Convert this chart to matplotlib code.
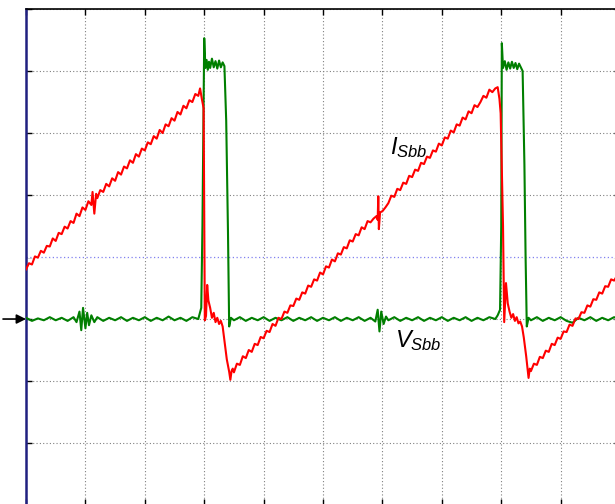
import matplotlib
matplotlib.use("Agg")
import matplotlib.pyplot as plt

plt.rcParams["mathtext.fontset"] = "custom"
plt.rcParams["mathtext.rm"] = "Liberation Sans"
plt.rcParams["mathtext.it"] = "Liberation Sans:italic"

# Screen divisions: 10 horizontal, 8 vertical (ground marker at 0)
x_divs = list(range(0, 11))
y_divs = list(range(-3, 6))
cursor_level = 1

# Switch current I_Sbb (red) in divisions
i_x = [0.00, 0.05, 0.10, 0.15, 0.20, 0.25, 0.30, 0.35, 0.40, 0.45,
       0.50, 0.55, 0.60, 0.65, 0.70, 0.75, 0.80, 0.85, 0.90, 0.95,
       1.00, 1.05, 1.10, 1.12, 1.15, 1.18, 1.20, 1.25, 1.30, 1.35,
       1.40, 1.45, 1.50, 1.55, 1.60, 1.65, 1.70, 1.75, 1.80, 1.85,
       1.90, 1.95, 2.00, 2.05, 2.10, 2.15, 2.20, 2.25, 2.30, 2.35,
       2.40, 2.45, 2.50, 2.55, 2.60, 2.65, 2.70, 2.75, 2.80, 2.85,
       2.90, 2.93, 2.96, 2.99, 3.01, 3.03, 3.05, 3.07, 3.10, 3.13,
       3.16, 3.19, 3.22, 3.25, 3.28, 3.31, 3.34, 3.38, 3.42, 3.44,
       3.46, 3.48, 3.50, 3.55, 3.60, 3.65, 3.70, 3.75, 3.80, 3.85,
       3.90, 3.95, 4.00, 4.05, 4.10, 4.15, 4.20, 4.25, 4.30, 4.35,
       4.40, 4.45, 4.50, 4.55, 4.60, 4.65, 4.70, 4.75, 4.80, 4.85,
       4.90, 4.95, 5.00, 5.05, 5.10, 5.15, 5.20, 5.25, 5.30, 5.35,
       5.40, 5.45, 5.50, 5.55, 5.60, 5.65, 5.70, 5.75, 5.80, 5.85,
       5.90, 5.92, 5.93, 5.94, 5.96, 6.00, 6.05, 6.10, 6.15, 6.20,
       6.25, 6.30, 6.35, 6.40, 6.45, 6.50, 6.55, 6.60, 6.65, 6.70,
       6.75, 6.80, 6.85, 6.90, 6.95, 7.00, 7.05, 7.10, 7.15, 7.20,
       7.25, 7.30, 7.35, 7.40, 7.45, 7.50, 7.55, 7.60, 7.65, 7.70,
       7.75, 7.80, 7.85, 7.90, 7.94, 7.97, 7.99, 8.03, 8.05, 8.08,
       8.11, 8.14, 8.17, 8.20, 8.23, 8.26, 8.29, 8.32, 8.35, 8.38,
       8.42, 8.46, 8.48, 8.50, 8.55, 8.60, 8.65, 8.70, 8.75, 8.80,
       8.85, 8.90, 8.95, 9.00, 9.05, 9.10, 9.15, 9.20, 9.25, 9.30,
       9.35, 9.40, 9.45, 9.50, 9.55, 9.60, 9.65, 9.70, 9.75, 9.80,
       9.85, 9.90, 9.95]
i_y = [0.80, 0.90, 0.88, 1.01, 0.99, 1.10, 1.07, 1.18, 1.17, 1.30,
       1.26, 1.39, 1.37, 1.49, 1.46, 1.58, 1.55, 1.70, 1.66, 1.80,
       1.76, 1.90, 1.84, 2.05, 1.70, 2.02, 1.95, 2.08, 2.05, 2.18,
       2.14, 2.27, 2.23, 2.37, 2.33, 2.46, 2.43, 2.56, 2.52, 2.66,
       2.62, 2.75, 2.72, 2.85, 2.82, 2.95, 2.91, 3.05, 3.00, 3.14,
       3.11, 3.24, 3.20, 3.34, 3.30, 3.44, 3.40, 3.53, 3.50, 3.63,
       3.60, 3.72, 3.55, 3.40, -0.02, 0.05, 0.55, 0.30, 0.18, 0.02,
       0.10, -0.05, 0.02, -0.08, -0.03, -0.12, -0.35, -0.65, -0.85, -0.98,
       -0.84, -0.80, -0.86, -0.72, -0.74, -0.60, -0.63, -0.50, -0.53, -0.40,
       -0.42, -0.29, -0.31, -0.19, -0.21, -0.08, -0.11, 0.02, 0.00, 0.12,
       0.10, 0.22, 0.21, 0.33, 0.31, 0.43, 0.41, 0.54, 0.52, 0.64,
       0.62, 0.75, 0.72, 0.85, 0.83, 0.96, 0.93, 1.06, 1.04, 1.16,
       1.14, 1.27, 1.25, 1.37, 1.35, 1.48, 1.45, 1.58, 1.56, 1.62,
       1.66, 1.60, 1.98, 1.45, 1.72, 1.74, 1.80, 1.87, 1.99, 1.97,
       2.10, 2.08, 2.20, 2.18, 2.31, 2.29, 2.41, 2.39, 2.52, 2.50,
       2.62, 2.60, 2.72, 2.70, 2.83, 2.80, 2.93, 2.91, 3.04, 3.01,
       3.14, 3.12, 3.25, 3.22, 3.35, 3.32, 3.45, 3.42, 3.50, 3.60,
       3.57, 3.70, 3.66, 3.72, 3.74, 3.55, 3.32, 1.50, -0.05, 0.58,
       0.25, 0.12, 0.02, 0.08, -0.03, 0.03, -0.07, -0.04, -0.12, -0.30,
       -0.60, -0.95, -0.80, -0.84, -0.72, -0.74, -0.61, -0.63, -0.51, -0.53,
       -0.40, -0.42, -0.30, -0.32, -0.20, -0.21, -0.09, -0.11, 0.01, 0.00,
       0.11, 0.10, 0.22, 0.20, 0.32, 0.31, 0.43, 0.41, 0.53, 0.52,
       0.64, 0.62, 0.70]

# Switch voltage V_Sbb (green)
v_x = [0.0, 0.1, 0.2, 0.3, 0.4, 0.5, 0.6, 0.7, 0.8, 0.85,
       0.9, 0.93, 0.96, 1.0, 1.03, 1.06, 1.1, 1.15, 1.2, 1.3,
       1.4, 1.5, 1.6, 1.7, 1.8, 1.9, 2.0, 2.1, 2.2, 2.3,
       2.4, 2.5, 2.6, 2.7, 2.8, 2.9, 2.95, 2.97, 3.00, 3.02,
       3.04, 3.06, 3.08, 3.10, 3.13, 3.16, 3.19, 3.22, 3.25, 3.28,
       3.31, 3.34, 3.37, 3.40, 3.42, 3.45, 3.5, 3.6, 3.7, 3.8,
       3.9, 4.0, 4.1, 4.2, 4.3, 4.4, 4.5, 4.6, 4.7, 4.8,
       4.9, 5.0, 5.1, 5.2, 5.3, 5.4, 5.5, 5.6, 5.7, 5.8,
       5.88, 5.92, 5.95, 5.98, 6.02, 6.06, 6.1, 6.2, 6.3, 6.4,
       6.5, 6.6, 6.7, 6.8, 6.9, 7.0, 7.1, 7.2, 7.3, 7.4,
       7.5, 7.6, 7.7, 7.8, 7.9, 7.94, 7.98, 8.00, 8.01, 8.03,
       8.06, 8.09, 8.12, 8.15, 8.18, 8.21, 8.24, 8.27, 8.30, 8.33,
       8.36, 8.39, 8.41, 8.43, 8.46, 8.5, 8.6, 8.7, 8.8, 8.9,
       9.0, 9.1, 9.2, 9.3, 9.4, 9.5, 9.6, 9.7, 9.8, 9.9, 10.0]
v_y = [0.02, -0.03, 0.01, -0.02, 0.03, -0.02, 0.02, -0.03, 0.03, -0.05,
       0.12, -0.18, 0.18, -0.15, 0.10, -0.10, 0.06, -0.05, 0.03, -0.03,
       0.02, -0.02, 0.03, -0.03, 0.02, -0.02, 0.03, -0.03, 0.02, -0.02,
       0.04, -0.02, 0.02, -0.03, 0.03, 0.00, 0.18, 1.50, 4.53, 4.05,
       4.18, 4.02, 4.15, 4.05, 4.20, 4.06, 4.16, 4.04, 4.17, 4.06,
       4.14, 4.08, 3.20, 1.40, -0.12, 0.02, -0.02, 0.03, -0.03, 0.02,
       -0.02, 0.03, -0.03, 0.02, -0.02, 0.03, -0.03, 0.02, -0.02, 0.03,
       -0.03, 0.02, -0.02, 0.03, -0.03, 0.02, -0.02, 0.03, -0.03, 0.02,
       -0.04, 0.15, -0.20, 0.12, -0.08, 0.04, -0.02, 0.03, -0.03, 0.02,
       -0.02, 0.03, -0.03, 0.02, -0.02, 0.03, -0.03, 0.02, -0.02, 0.03,
       -0.03, 0.02, -0.02, 0.03, 0.00, 0.06, 0.15, 1.50, 4.45, 4.05,
       4.16, 4.02, 4.14, 4.04, 4.15, 4.05, 4.13, 4.03, 4.12, 4.06,
       4.00, 2.50, 1.00, -0.12, 0.02, -0.02, 0.03, -0.03, 0.02, -0.02,
       0.03, -0.03, -0.06, 0.02, -0.02, 0.03, -0.03, 0.02, -0.02, 0.03, 0.00]

fig = plt.figure(figsize=(6.15, 5.04), dpi=100)
ax = fig.add_axes([0.0423, -0.002, 0.9659, 0.984])

ax.plot(v_x, v_y, color="#007f00", lw=1.5, zorder=3)
ax.plot(i_x, i_y, color="#ff0000", lw=1.5, zorder=4)

ax.set_xlim(0, 10)
ax.set_ylim(-3, 5)
ax.set_xticks(x_divs)
ax.set_yticks(y_divs)
ax.set_xticklabels([])
ax.set_yticklabels([])
ax.tick_params(direction="in", length=4.3, width=1, top=True, right=True,
               color="black")
ax.grid(True, ls=(0, (1, 2)), color="#808080", lw=0.8)
# cursor line: white underlay hides the grey grid line, blue dots on top
ax.axhline(cursor_level, color="white", lw=1.6, zorder=1.9)
ax.axhline(cursor_level, ls=(0, (1, 2)), color="#8080f0", lw=0.9, zorder=2)

ax.spines["left"].set_color("#202080")
ax.spines["left"].set_linewidth(1.8)
for side in ["top", "right", "bottom"]:
    ax.spines[side].set_linewidth(1.2)

# ground reference marker
ax.annotate("", xy=(0, 0), xytext=(-23, 0), textcoords="offset pixels",
            arrowprops=dict(arrowstyle="-|>", color="black", lw=1.2,
                            mutation_scale=14, shrinkA=0, shrinkB=0),
            annotation_clip=False)

ax.text(6.13, 2.66, r"$I_{Sbb}$", fontsize=17, color="black",
        ha="left", va="baseline")
ax.text(6.21, -0.45, r"$V_{Sbb}$", fontsize=17, color="black",
        ha="left", va="baseline")

fig.savefig("out.png", dpi=100)
